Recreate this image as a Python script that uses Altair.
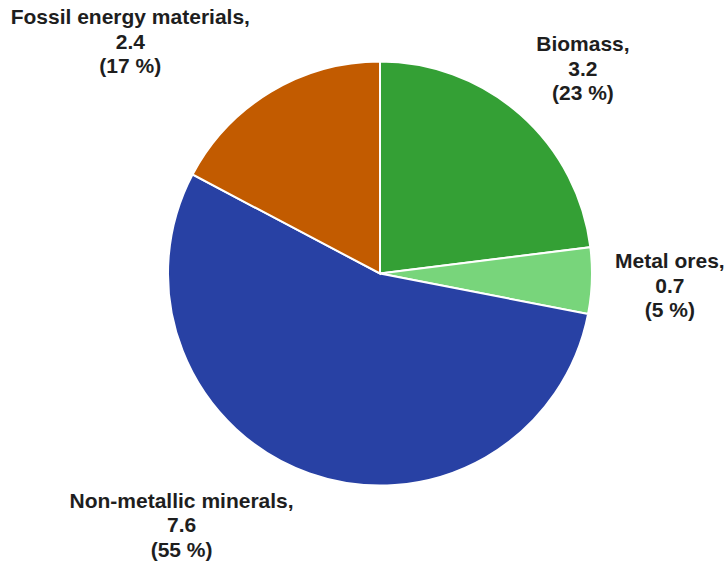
import math
import altair as alt
import pandas as pd

# Material categories, clockwise from 12 o'clock
categories = ["Biomass", "Metal ores", "Non-metallic minerals", "Fossil energy materials"]
values = [3.2, 0.7, 7.6, 2.4]
colors = ["#34a035", "#78d57b", "#2841a4", "#c25b00"]

total = sum(values)
shares = [round(v / total * 100) for v in values]
labels = [f"{c},\n{v}\n({p} %)" for c, v, p in zip(categories, values, shares)]

df = pd.DataFrame({
    "category": categories,
    "value": values,
    "label": labels,
    "order": list(range(len(categories))),
})

CX, CY, R = 380, 273.5, 212
theta_scale = alt.Scale(domain=[0, total], range=[0, 2 * math.pi])

base = alt.Chart(df)

pie = base.mark_arc(
    x=CX, y=CY, outerRadius=R, stroke="white", strokeWidth=2
).encode(
    theta=alt.Theta("value:Q", stack=True, scale=theta_scale),
    color=alt.Color("category:N", scale=alt.Scale(domain=categories, range=colors), legend=None),
    order=alt.Order("order:Q"),
)

# label nudges (dx, dy) from the slice mid-angle at the label radius;
# the anchor sits on the first line of each three-line label
nudges = {
    "Biomass": (11, -11),
    "Metal ores": (0, -21),
    "Non-metallic minerals": (-102, -45),
    "Fossil energy materials": (-100, -7),
}

label_base = base.transform_window(
    cum="sum(value)", sort=[alt.SortField("order")], frame=[None, 0]
).transform_calculate(mid="datum.cum - datum.value / 2")

texts = []
for cat in categories:
    dx, dy = nudges[cat]
    texts.append(
        label_base.transform_filter(alt.datum.category == cat)
        .mark_text(
            x=CX, y=CY, radius=290, dx=dx, dy=dy,
            lineBreak="\n", lineHeight=24.5,
            font="Liberation Sans", fontSize=21, fontWeight="bold",
            color="#1e1e1e", align="center", baseline="middle",
        )
        .encode(
            theta=alt.Theta("mid:Q", stack=False, scale=theta_scale),
            text="label:N",
        )
    )

chart = alt.layer(pie, *texts).properties(
    width=725, height=565, padding=0, autosize="none", background="white"
).configure_view(stroke=None)

chart.save("out.html", embed_options={"renderer": "svg", "actions": False})
